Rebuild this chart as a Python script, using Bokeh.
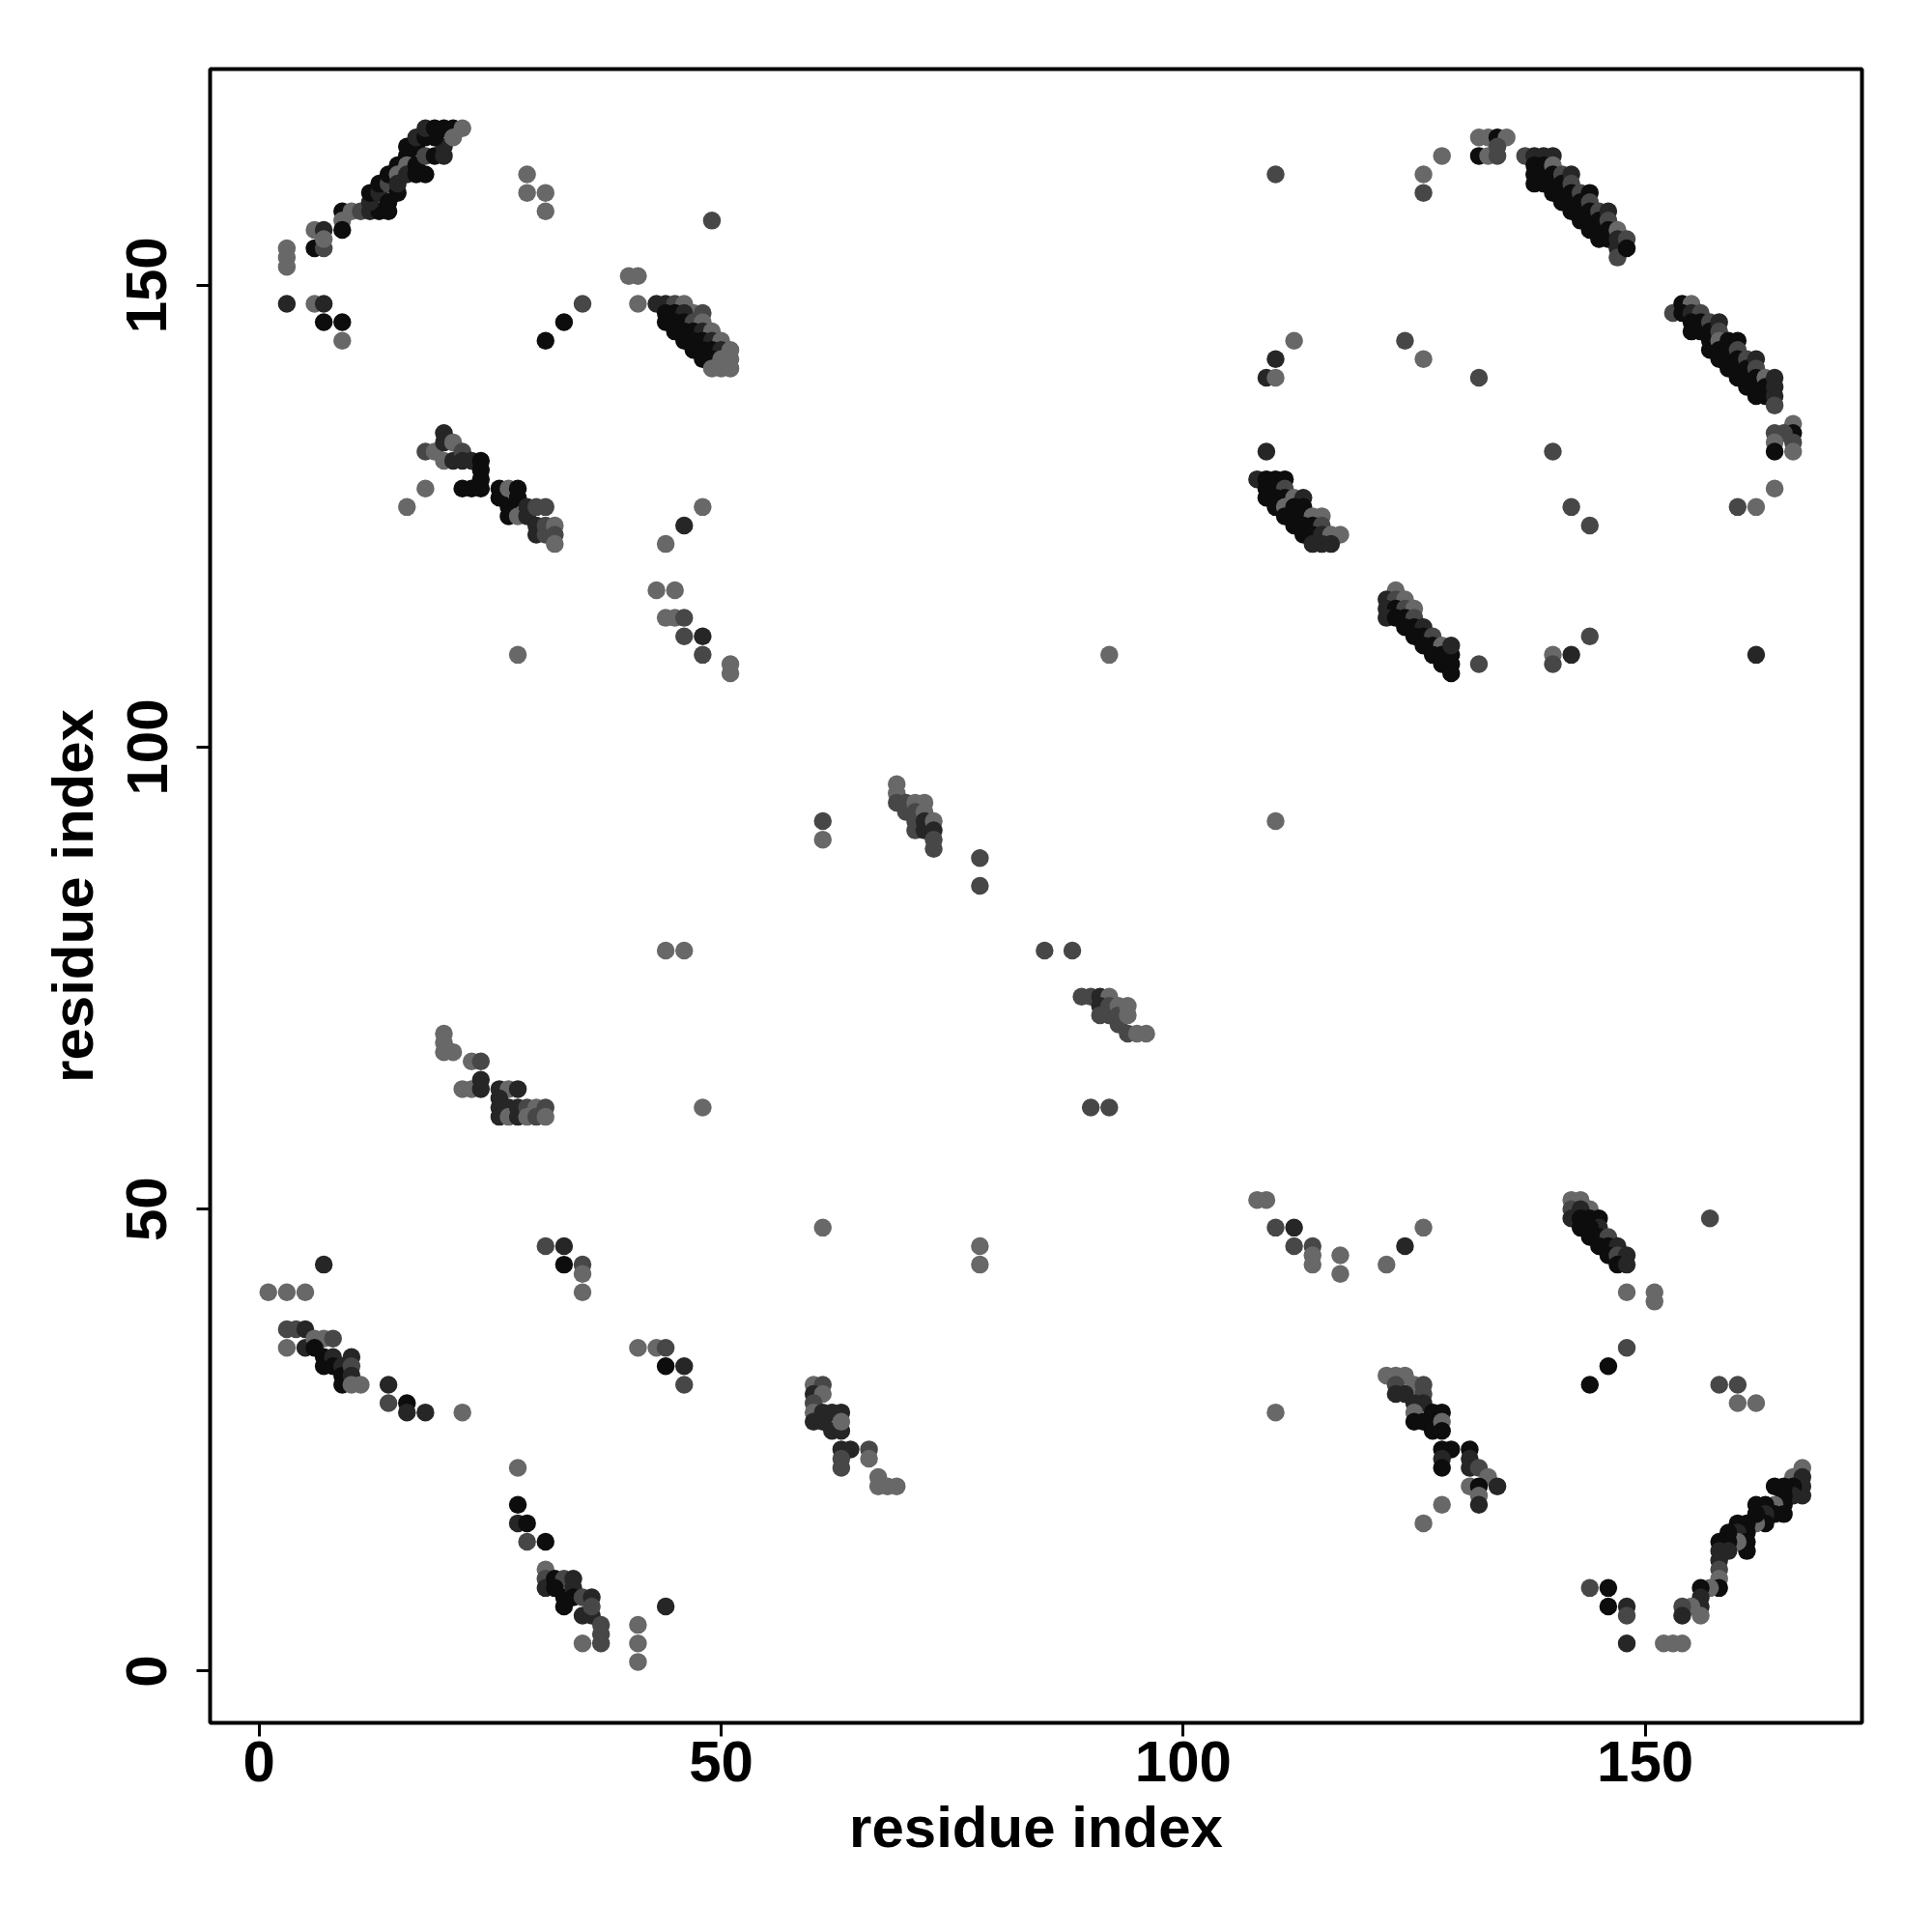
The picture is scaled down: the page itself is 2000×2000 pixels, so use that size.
from bokeh.plotting import figure
from bokeh.models import FixedTicker, ColumnDataSource, Range1d
from bokeh.embed import file_html
from bokeh.resources import INLINE

# contact points: (residue i, residue j, grey level 1=light .. 4=black)
top_left = [
    (3,154,1),(3,153,1),(3,152,1),(3,148,3),(6,148,1),(7,148,3),(7,146,4),(9,146,4),(9,144,1),
    (6,156,1),(7,156,3),(6,154,4),(7,154,2),(7,155,1),(9,158,4),(9,157,1),(9,156,4),
    (10,158,1),(11,158,2),(12,158,3),(13,158,4),(14,158,4),(12,159,3),(12,160,4),(13,160,3),
    (13,161,4),(14,159,4),(14,161,2),(14,162,4),(15,163,4),(15,162,1),(15,160,4),(15,161,3),
    (16,164,4),(16,165,4),(16,163,1),(16,162,3),(17,162,4),(17,163,4),(17,165,4),(17,166,3),
    (18,164,2),(18,166,4),(18,162,4),(19,164,4),(20,164,3),(20,165,3),(19,166,4),(18,167,3),
    (19,167,4),(20,167,4),(21,167,4),(21,166,1),(22,167,1),
    (29,162,1),(29,160,1),(31,160,1),(31,158,1),(35,148,2),(33,146,4),(31,144,4),
    (40,151,1),(41,151,1),(41,148,1),(49,157,2),
]
strand_43_148 = [
    (43,148,3),(44,148,3),(45,148,2),(46,148,1),(47,147,1),(48,147,2),(44,147,4),(45,147,4),
    (46,147,3),(44,146,4),(45,146,4),(46,146,4),(47,146,2),(48,146,1),(45,145,4),(46,145,4),
    (47,145,4),(48,145,3),(49,145,1),(46,144,4),(47,144,4),(48,144,4),(49,144,3),(50,144,1),
    (47,143,4),(48,143,4),(49,143,4),(50,143,3),(51,143,1),(48,142,4),(49,142,4),(50,142,1),
    (51,142,1),(49,141,1),(50,141,1),(51,141,1),
]
mid_left = [
    (16,126,1),(18,128,1),(18,132,2),(19,132,1),(20,134,3),(20,133,3),(21,133,1),(20,131,1),
    (21,131,3),(22,132,2),(22,131,3),(23,131,3),(24,131,4),(24,130,4),(24,129,4),(24,128,4),
    (23,128,4),(22,128,4),(26,128,4),(26,127,4),(27,128,1),(28,128,4),(28,127,4),(27,126,4),
    (27,125,4),(28,125,1),(29,126,3),(29,125,3),(30,126,2),(31,126,2),(30,124,3),(30,123,3),
    (31,124,2),(31,123,2),(32,124,1),(32,123,2),(32,122,1),
    (48,126,1),(46,124,3),(44,122,1),(43,117,1),(45,117,1),(44,114,1),(45,114,1),(46,114,2),
    (46,112,2),(48,112,3),(48,110,2),(51,109,1),(51,108,1),(28,110,1),
]
centre = [
    (61,92,2),(61,90,1),(69,96,1),(69,95,1),(69,94,2),(70,94,2),(70,93,2),(71,94,1),(72,94,1),
    (71,93,2),(71,92,2),(71,91,2),(72,93,1),(72,92,3),(72,91,3),(73,92,1),(73,91,3),(73,90,2),
    (73,89,2),(78,88,2),(78,85,2),(85,78,2),(88,78,2),
    (89,73,2),(90,73,2),(91,73,3),(92,73,1),(91,72,3),(91,71,2),(92,72,2),(92,71,2),(93,72,1),
    (93,71,2),(93,70,2),(94,72,1),(94,71,1),(94,69,2),(95,69,1),(96,69,1),
]
scattered = [
    (92,110,1),(110,92,1),(44,78,1),(46,78,1),(48,61,1),(90,61,2),(92,61,2),(61,48,1),
    (78,46,1),(78,44,1),(110,28,1),(157,49,2),
]
left_mid = [
    (20,69,1),(20,68,1),(20,67,1),(21,67,1),(23,66,1),(24,66,2),(22,63,1),(23,63,1),(24,63,3),
    (24,64,3),(26,63,3),(27,63,1),(28,63,3),(26,62,3),(26,61,3),(26,60,3),(27,61,3),(27,60,1),
    (28,61,3),(28,60,3),(29,61,2),(30,61,1),(31,61,2),(29,60,1),(30,60,2),(31,60,1),
]
bottom_left = [
    (1,41,1),(3,41,1),(5,41,1),(7,44,3),(3,37,2),(4,37,2),(5,37,3),(3,35,1),(5,35,3),(6,36,1),
    (7,36,1),(8,36,2),(6,35,4),(7,34,4),(7,33,4),(8,34,3),(8,33,4),(9,33,3),(9,32,4),(9,31,4),
    (10,34,3),(10,33,2),(10,32,3),(10,31,1),(11,31,1),(14,31,3),(14,29,2),(16,29,4),(16,28,3),
    (18,28,3),(22,28,1),
    (31,46,2),(33,46,3),(33,44,4),(35,44,2),(35,43,1),(35,41,1),(41,35,1),(43,35,1),(44,35,2),
    (44,33,4),(46,33,3),(46,31,2),
    (28,22,1),(28,18,4),(28,16,3),(29,16,4),(29,14,2),(31,14,4),(31,11,1),(31,10,2),(31,9,3),
    (32,10,4),(33,10,2),(34,10,3),(32,9,4),(33,8,4),(33,7,4),(34,9,3),(34,8,4),(35,8,2),
    (36,8,3),(35,6,3),(36,6,3),(36,7,2),(37,5,2),(37,4,2),(37,3,2),(35,3,1),(41,5,1),(41,3,1),
    (41,1,1),(44,7,3),
]
bottom_mid = [
    (60,31,1),(61,31,2),(60,30,3),(61,30,1),(60,29,2),(60,28,1),(60,27,3),(61,28,3),(61,27,3),
    (62,28,3),(63,28,3),(62,26,3),(63,26,3),(63,27,1),(63,24,3),(64,24,3),(63,23,2),(63,22,2),
    (66,24,2),(66,23,1),(67,21,1),(67,20,1),(68,20,1),(69,20,1),
]
bottom_right_a = [
    (108,51,1),(109,51,1),(110,48,2),(112,48,3),(112,46,2),(114,46,2),(114,45,1),(114,44,1),
    (117,45,1),(117,43,1),(122,44,1),(124,46,3),(126,48,1),
    (122,32,1),(123,32,1),(124,32,1),(125,31,1),(123,31,2),(123,30,3),(124,30,3),(126,31,2),
    (126,30,2),(126,29,3),(125,29,3),(125,28,1),(125,27,4),(126,27,4),(127,27,4),(127,28,4),
    (127,26,4),(128,28,4),(128,27,1),(128,26,4),(128,24,4),(129,24,4),(128,23,3),(128,22,4),
    (131,24,4),(131,23,3),(131,22,3),(132,22,2),(133,21,1),(131,20,1),(132,20,4),(134,20,3),
    (132,19,1),(132,18,3),(128,18,1),(126,16,1),
]
bottom_right_b = [
    (142,51,1),(143,51,1),(144,50,1),(142,50,2),(143,50,3),(142,49,3),(143,49,4),(144,49,4),
    (145,49,4),(145,48,3),(143,48,4),(144,48,4),(144,47,4),(145,47,4),(146,47,2),(146,46,4),
    (147,46,3),(145,46,4),(146,45,4),(147,45,2),(148,45,3),(147,44,4),(148,44,3),
    (148,41,1),(151,41,1),(151,40,1),(148,35,2),(146,33,4),(144,31,4),(158,31,2),(160,31,2),
    (160,29,1),(162,29,1),
    (167,22,1),(166,21,1),(167,21,3),(167,20,3),(167,19,3),(166,20,4),(166,19,3),(165,20,4),
    (164,20,4),(165,19,4),(165,18,4),(164,18,1),(165,17,4),(164,17,4),(163,18,4),(162,18,4),
    (163,17,3),(163,16,4),(162,16,1),(162,17,4),(161,16,4),(160,16,4),(161,15,4),(160,15,3),
    (161,14,4),(161,13,4),(160,14,1),(159,15,4),(159,14,4),(158,14,4),(159,13,3),(158,13,3),
    (158,12,3),(158,11,2),(158,10,1),(158,9,4),(157,9,1),(156,9,4),(156,8,3),(156,7,3),
    (155,7,1),(154,7,2),(154,6,3),(156,6,1),(152,3,1),(153,3,1),(154,3,1),(148,3,3),
    (144,9,2),(146,9,4),(146,7,4),(148,7,3),(148,6,2),
]
top_right_a = [
    (110,162,2),(128,164,1),(126,162,1),(126,160,2),(132,166,1),(133,166,1),(134,166,4),
    (135,166,1),(132,164,4),(133,164,1),(134,164,2),(134,165,2),
    (137,164,2),(138,164,3),(139,164,3),(140,164,3),(138,163,4),(139,163,4),(138,162,4),
    (138,161,4),(139,162,4),(139,161,4),(140,163,1),(140,162,4),(140,161,4),(140,160,4),
    (141,162,2),(141,161,4),(141,160,4),(141,159,4),(142,162,3),(142,161,2),(142,160,4),
    (142,159,4),(142,158,4),(143,160,2),(143,159,4),(143,158,4),(143,157,4),(144,160,4),
    (144,159,2),(144,158,4),(144,157,4),(144,156,4),(145,158,2),(145,157,4),(145,156,4),
    (145,155,4),(146,158,3),(146,157,2),(146,156,4),(146,155,4),(147,156,1),(147,155,3),
    (147,154,3),(147,153,2),(148,155,2),(148,154,4),
    (153,147,2),(154,148,4),(155,148,1),(154,147,4),(155,147,3),(156,147,2),(155,146,4),
    (155,145,4),(156,146,4),(156,145,4),(157,146,2),(157,145,4),(157,144,4),(157,143,4),
    (158,146,3),(158,145,2),(158,144,1),(158,143,4),(158,142,4),(159,144,4),(159,143,4),
    (159,142,4),(159,141,4),(160,144,4),(160,143,2),(160,142,4),(160,141,4),(160,140,4),
    (161,142,2),(161,141,4),(161,140,4),(161,139,4),(162,142,3),(162,141,2),(162,140,4),
    (162,139,4),(162,138,4),(163,140,1),(163,139,4),(163,138,4),(164,140,3),(164,139,3),
    (164,138,3),(164,137,2),
    (166,135,1),(166,134,4),(166,133,2),(166,132,1),(164,134,2),(165,134,2),(164,133,1),
    (164,132,4),(164,128,1),(162,126,1),(160,126,2),(140,132,2),(142,126,2),(144,124,2),
    (162,110,3),
]
top_right_b = [
    (112,144,1),(110,142,3),(109,140,3),(110,140,1),(124,144,2),(126,142,1),(132,140,2),
    (109,132,3),
    (108,129,3),(109,129,4),(110,129,4),(111,129,4),(109,128,4),(110,128,4),(111,128,2),
    (109,127,4),(110,127,4),(111,127,4),(112,127,1),(113,127,3),(110,126,4),(111,126,1),
    (112,126,4),(113,126,4),(111,125,4),(112,125,4),(113,125,4),(114,125,1),(115,125,1),
    (112,124,4),(113,124,4),(114,124,4),(115,124,2),(113,123,4),(114,123,4),(115,123,3),
    (116,123,1),(117,123,1),(114,122,3),(115,122,3),(116,122,3),
    (123,117,1),(122,116,3),(123,116,2),(124,116,1),(122,115,3),(123,115,4),(124,115,2),
    (125,115,1),(122,114,3),(123,114,4),(124,114,4),(125,114,2),(124,113,4),(125,113,4),
    (126,113,3),(125,112,4),(126,112,4),(127,112,2),(126,111,4),(127,111,4),(128,111,1),
    (127,110,4),(128,110,4),(129,110,4),(128,109,4),(129,109,4),(129,111,3),(129,108,4),
    (132,109,2),(140,110,1),(140,109,2),(142,110,3),(144,112,2),
]

grey_levels = {1: "#686868", 2: "#474747", 3: "#262626", 4: "#0d0d0d"}
x_ticks = [0, 50, 100, 150]
y_ticks = [0, 50, 100, 150]
axis_title = "residue index"

pts = (top_left + strand_43_148 + mid_left + centre + scattered + left_mid + bottom_left
       + bottom_mid + bottom_right_a + bottom_right_b + top_right_a + top_right_b)
src = ColumnDataSource(dict(
    x=[p[0] for p in pts],
    y=[p[1] for p in pts],
    c=[grey_levels[p[2]] for p in pts],
))

p = figure(width=1984, height=1984,
           x_range=Range1d(-5.3, 173.45), y_range=Range1d(-5.6, 173.4),
           output_backend="svg", toolbar_location=None,
           min_border_left=217, min_border_top=71, min_border_right=57, min_border_bottom=201)
p.background_fill_color = "white"
p.border_fill_color = "white"
p.grid.visible = False
p.outline_line_color = "black"
p.outline_line_width = 4

p.scatter(x="x", y="y", size=18.5, fill_color="c", line_color=None, source=src)

for ax, ticks in ((p.xaxis[0], x_ticks), (p.yaxis[0], y_ticks)):
    ax.ticker = FixedTicker(ticks=ticks)
    ax.axis_label = axis_title
    ax.axis_label_text_font = "Liberation Sans"
    ax.axis_label_text_font_style = "bold"
    ax.axis_label_text_font_size = "60px"
    ax.axis_label_text_color = "black"
    ax.major_label_text_font = "Liberation Sans"
    ax.major_label_text_font_style = "bold"
    ax.major_label_text_font_size = "60px"
    ax.major_label_text_color = "black"
    ax.axis_line_color = None
    ax.major_tick_line_color = "black"
    ax.major_tick_line_width = 3
    ax.major_tick_out = 14
    ax.major_tick_in = 0
    ax.minor_tick_line_color = None

p.xaxis.major_label_standoff = 5
p.xaxis.axis_label_standoff = 11
p.yaxis.major_label_standoff = 31
p.yaxis.axis_label_standoff = 20
p.yaxis.major_label_orientation = "vertical"

open("out.html", "w").write(file_html(p, INLINE))
